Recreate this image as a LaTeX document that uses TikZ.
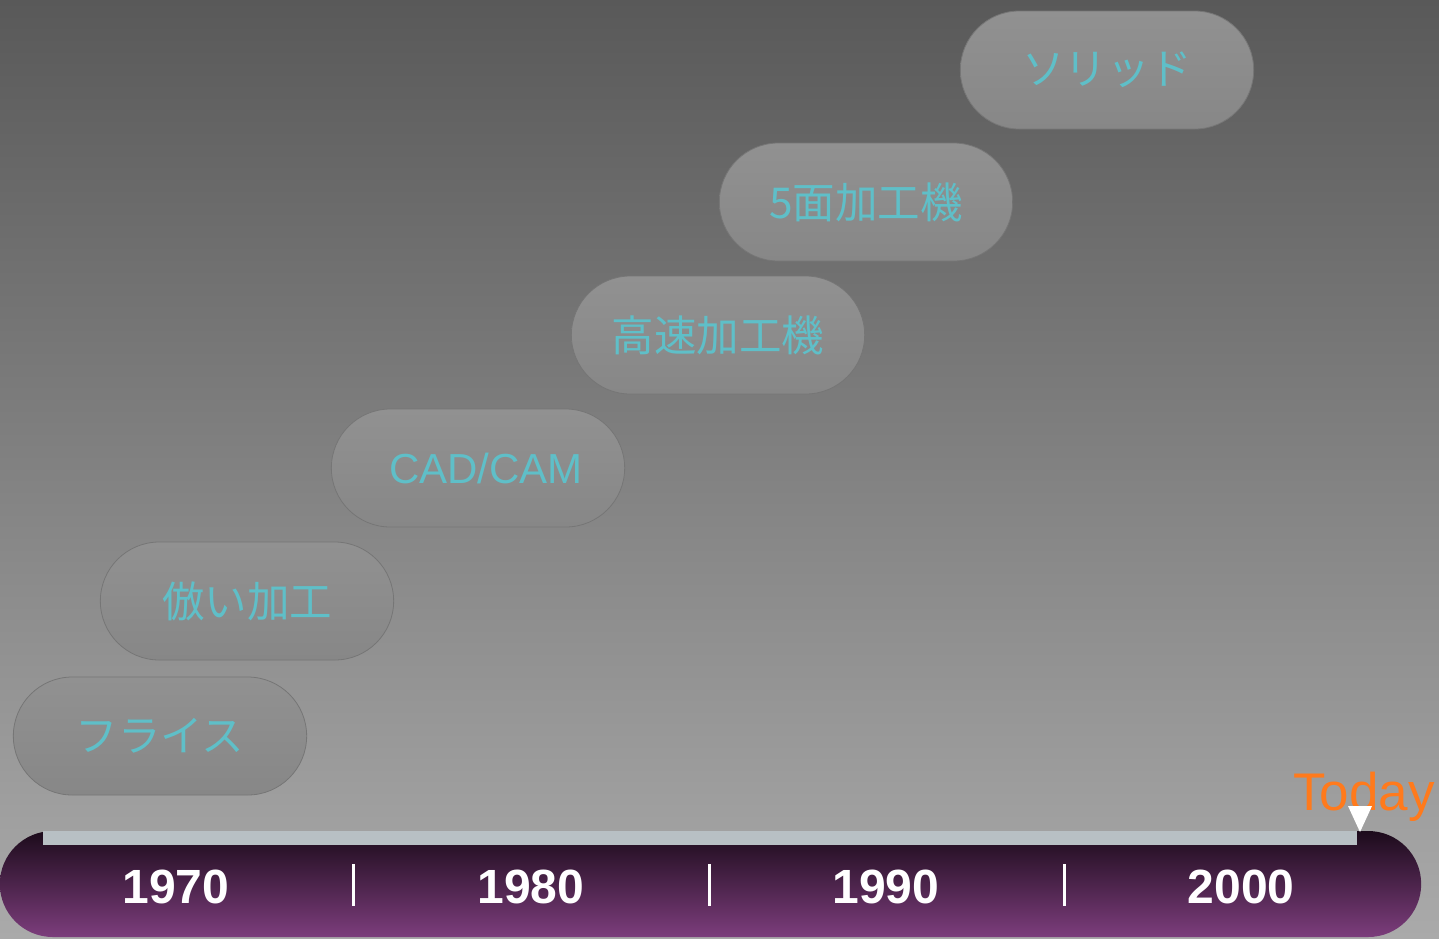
\documentclass[tikz,border=0pt]{standalone}
\usepackage{fontspec}
\setmainfont{Liberation Sans}
\newfontfamily\jpfont{Noto Sans CJK JP}
\usetikzlibrary{shapes.misc}
\definecolor{bgtop}{HTML}{595959}
\definecolor{bgbottom}{HTML}{AAAAAA}
\definecolor{pilltop}{HTML}{919191}
\definecolor{pillbottom}{HTML}{878787}
\definecolor{pilledge}{HTML}{767676}
\definecolor{pilltext}{HTML}{5FBFC8}
\definecolor{bardark}{HTML}{1C0B1B}
\definecolor{barmid}{HTML}{4E2350}
\definecolor{barpurple}{HTML}{7C3D7C}
\definecolor{stripe}{HTML}{B8C0C4}
\definecolor{todayorange}{HTML}{FF7A1C}
\tikzstyle{era}=[rounded rectangle, minimum width=300pt, minimum height=118pt,
  top color=pilltop, bottom color=pillbottom, draw=pilledge, line width=0.8pt,
  text=pilltext, font=\jpfont\fontsize{42.5}{50}\selectfont]
\tikzstyle{year}=[text=white, anchor=base, font=\fontsize{48}{56}\selectfont\bfseries]
\tikzstyle{tick}=[draw=white, line width=3pt]

\begin{document}
\begin{tikzpicture}[x=1pt, y=-1pt]
  \useasboundingbox (0,0) rectangle (1439,938);
  % background
  \shade [top color=bgtop, bottom color=bgbottom] (0,0) rectangle (1439,938);

  % eras
  \node (solid)      [era] at (1107,70)  {ソリッド};
  \node (fiveaxis)   [era] at (866,202)  {5面加工機};
  \node (highspeed)  [era] at (718,335)  {高速加工機};
  \node (cadcam)     [era, font=\fontsize{42}{50}\selectfont] at (478,468) {\hspace{16pt}CAD/CAM};
  \node (copying)    [era] at (247,601)  {倣い加工};
  \node (milling)    [era] at (160,736)  {フライス};

  % time line
  \node (bar) [rounded rectangle, minimum width=1428pt, minimum height=106pt,
    top color=bardark, middle color=barmid, bottom color=barpurple] at (710.5,884) {};
  \fill [stripe] (43,831) rectangle (1357,845);
  \node (y1970) [year] at (176,903) {1970};
  \node (y1980) [year] at (531,903) {1980};
  \node (y1990) [year] at (886,903) {1990};
  \node (y2000) [year] at (1241,903) {2000};
  \draw [style=tick] (353,864) -- (353,906);
  \draw [style=tick] (709,864) -- (709,906);
  \draw [style=tick] (1064,864) -- (1064,906);

  % today marker
  \node (today) [anchor=base, text=todayorange, font=\fontsize{53}{62}\selectfont]
    at (1364,810) {Today};
  \fill [white] (1348,806) -- (1372,806) -- (1360,832) -- cycle;
\end{tikzpicture}
\end{document}
